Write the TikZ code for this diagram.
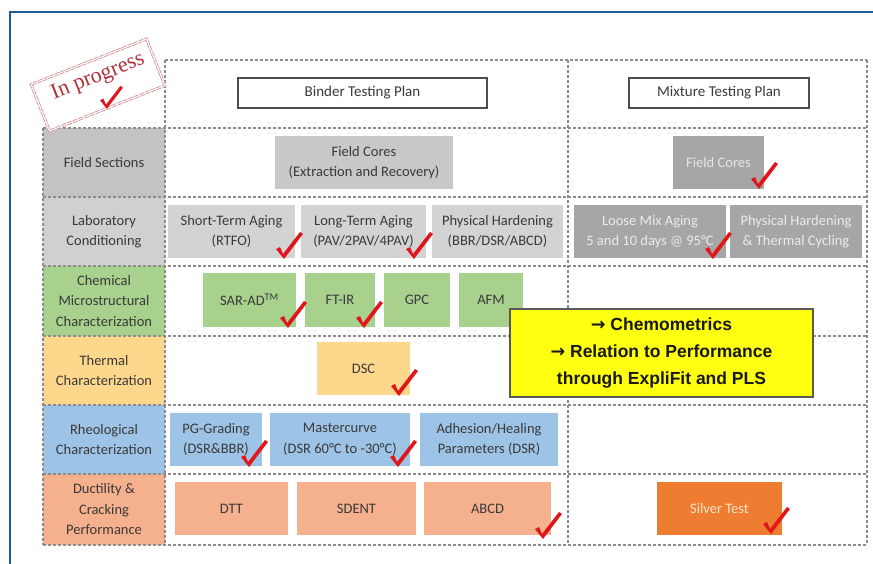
\documentclass[tikz,border=0pt]{standalone}
\usepackage{fontspec}
\setmainfont{Carlito}
\newfontfamily\arialf{Liberation Sans}
\newfontfamily\timesf{Liberation Serif}
\newfontfamily\dejavuf{DejaVu Sans}
\definecolor{frameblue}{HTML}{1F5A9A}
\definecolor{gridgray}{HTML}{8C8C8C}
\definecolor{txt}{HTML}{3A3A3A}
\definecolor{fsgray}{HTML}{C3C3C3}
\definecolor{lcgray}{HTML}{D0D0D0}
\definecolor{boxgray}{HTML}{C8C8C8}
\definecolor{labgray}{HTML}{D3D3D3}
\definecolor{mixgray}{HTML}{A6A6A6}
\definecolor{chemgreen}{HTML}{A9D18E}
\definecolor{thermyel}{HTML}{FDD78C}
\definecolor{rheoblue}{HTML}{9DC3E6}
\definecolor{ductsalm}{HTML}{F5B08E}
\definecolor{silvorg}{HTML}{EE7D31}
\definecolor{chkred}{HTML}{E0161B}
\definecolor{stampred}{HTML}{B0303A}
\definecolor{yelbox}{HTML}{FFFF10}
\tikzset{
  box/.style={rectangle, inner sep=0pt, align=center, text=txt,
    font=\fontsize{14.5}{20.5}\selectfont},
  hdr/.style={box, draw=black!70, line width=1.2pt, fill=white, font=\fontsize{15}{19}\selectfont},
  gridline/.style={draw=gridgray, line width=1.2pt, dash pattern=on 3pt off 2pt},
  chk/.pic={\fill[chkred] (-7,-9) -- (-3,-11) -- (0,-4) -- (17,-26) -- (20,-24) -- (1,1) -- cycle;}
}
\newcommand\bx[7][]{\node[box,#1,minimum width={#5-#3},minimum height={#6-#4}] (#2) at ({(#3+#5)/2},{(#4+#6)/2}) {#7};}
\newcommand\arr{{\dejavuf\bfseries →}}
\begin{document}
\begin{tikzpicture}[x=1pt,y=-1pt]
\useasboundingbox (0,0) rectangle (873,564);
\fill[white] (0,0) rectangle (873,564);
% frame
\draw[frameblue, line width=1.5pt] (10,564) -- (10,12) -- (873,12);
% left column cells
\bx[fill=fsgray]{lfs}{43}{128}{165}{197}{Field Sections}
\bx[fill=lcgray]{llc}{43}{197}{165}{266}{Laboratory\\Conditioning}
\bx[fill=chemgreen]{lch}{43}{266}{165}{336}{Chemical\\Microstructural\\Characterization}
\bx[fill=thermyel]{lth}{43}{336}{165}{405}{Thermal\\Characterization}
\bx[fill=rheoblue]{lrh}{43}{405}{165}{474}{Rheological\\Characterization}
\bx[fill=ductsalm]{ldu}{43}{474}{165}{545}{Ductility \&\\Cracking\\Performance}
% grid
\draw[gridline] (165,60) -- (867,60);
\foreach \yy in {128,197,266,336,405,474,545} {\draw[gridline] (43,\yy) -- (867,\yy);}
\draw[gridline] (43,128) -- (43,545);
\foreach \xx in {165,568,867} {\draw[gridline] (\xx,60) -- (\xx,545);}
% headers
\bx[hdr]{bhead}{238}{78}{487}{108}{Binder Testing Plan}
\bx[hdr]{mhead}{629}{78}{809}{108}{Mixture Testing Plan}
% field sections
\bx[fill=boxgray]{bfc}{275}{136}{453}{189}{Field Cores\\(Extraction and Recovery)}
\bx[fill=mixgray,text=black!10]{mfc}{673}{136}{764}{189}{Field Cores}
% lab conditioning
\bx[fill=labgray]{sta}{168}{205}{295}{258}{Short-Term Aging\\(RTFO)}
\bx[fill=labgray]{lta}{301}{205}{426}{258}{Long-Term Aging\\(PAV/2PAV/4PAV)}
\bx[fill=labgray]{phb}{432}{205}{563}{258}{Physical Hardening\\(BBR/DSR/ABCD)}
\bx[fill=mixgray,text=black!8]{lma}{574}{205}{726}{258}{Loose Mix Aging\\5 and 10 days @ 95°C}
\bx[fill=mixgray,text=black!8]{phm}{730}{205}{862}{258}{Physical Hardening\\\& Thermal Cycling}
% chemical
\bx[fill=chemgreen]{sar}{203}{273}{296}{327}{SAR-AD\textsuperscript{TM}}
\bx[fill=chemgreen]{ftir}{305}{273}{375}{327}{FT-IR}
\bx[fill=chemgreen]{gpc}{384}{273}{450}{327}{GPC}
\bx[fill=chemgreen]{afm}{459}{273}{523}{327}{AFM}
% thermal
\bx[fill=thermyel]{dsc}{317}{342}{410}{395}{DSC}
% rheological
\bx[fill=rheoblue]{pgg}{170}{413}{262}{466}{PG-Grading\\(DSR\&BBR)}
\bx[fill=rheoblue]{mcv}{270}{413}{410}{466}{Mastercurve\\(DSR 60°C to -30°C)}
\bx[fill=rheoblue]{adh}{420}{413}{558}{466}{Adhesion/Healing\\Parameters (DSR)}
% ductility
\bx[fill=ductsalm]{dtt}{175}{482}{288}{535}{DTT}
\bx[fill=ductsalm]{sdent}{297}{482}{416}{535}{SDENT}
\bx[fill=ductsalm]{abcd}{424}{482}{551}{535}{ABCD}
\bx[fill=silvorg,text=orange!20]{silver}{657}{482}{782}{535}{Silver Test}
% yellow box
\bx[fill=yelbox,draw=black!65,line width=1.5pt,text=black!90,font=\arialf\bfseries\fontsize{17.5}{27}\selectfont]{chemo}{510}{309}{813}{397}{\arr\ Chemometrics\\\arr\ Relation to Performance\\through ExpliFit and PLS}
% stamp
\fill[white, rotate around={21.5:(98,85)}] (35,59) rectangle (161,111);
\draw[stampred!55, line width=0.7pt, dash pattern=on 5pt off 1pt, rotate around={21.5:(98,85)}] (35,59) rectangle (161,111) (37,61) rectangle (159,109);
\node[rotate=21.5, text=stampred, font=\timesf\fontsize{22}{22}\selectfont, inner sep=0pt] (stamptxt) at (98,77) {In progress};
% checks
\pic[scale=0.85] at (106,108) {chk};
\pic at (758,188) {chk};
\pic at (283,258) {chk};
\pic at (413,258) {chk};
\pic at (712,258) {chk};
\pic at (287,327) {chk};
\pic at (363,327) {chk};
\pic at (398,395) {chk};
\pic at (248,466) {chk};
\pic at (397,466) {chk};
\pic at (542,538) {chk};
\pic at (770,533) {chk};
\end{tikzpicture}
\end{document}
